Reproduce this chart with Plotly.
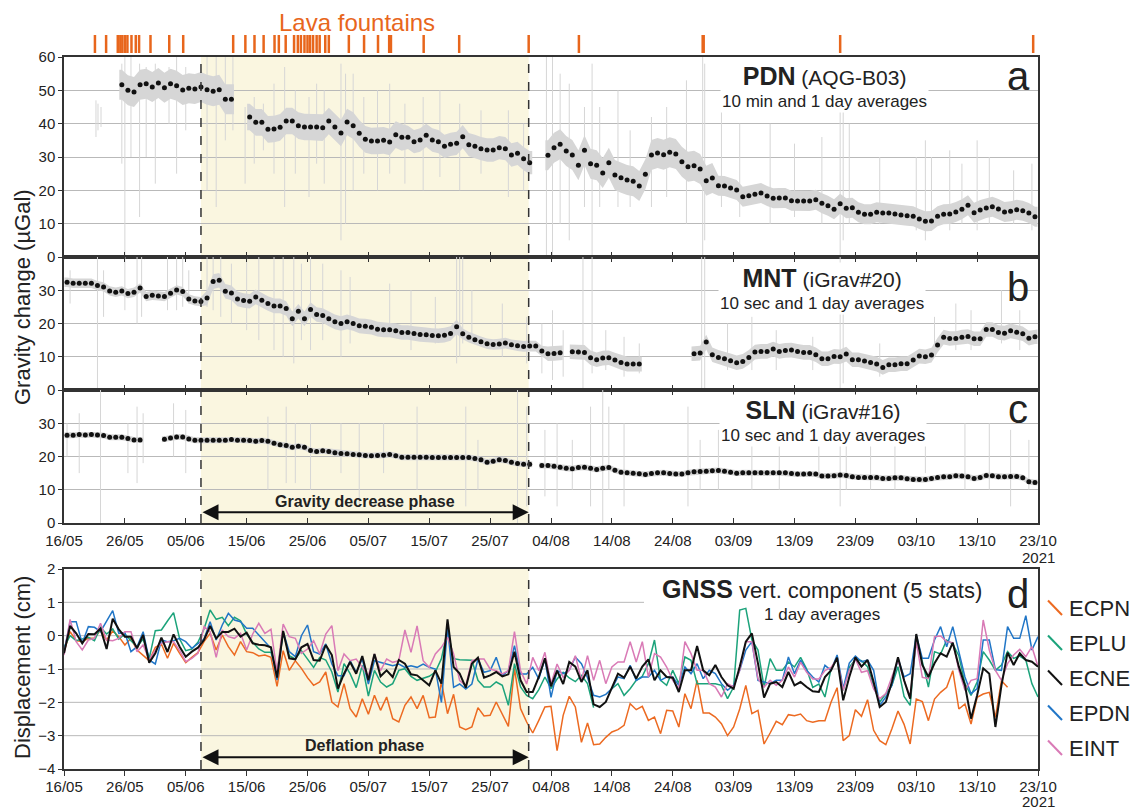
import pandas as pd
import plotly.graph_objects as go

# ------------------------------------------------------------------ data
X_RANGE = ["2021-05-16", "2021-10-23"]
TICK_DATES = ["2021-05-16", "2021-05-26", "2021-06-05", "2021-06-15", "2021-06-25",
              "2021-07-05", "2021-07-15", "2021-07-25", "2021-08-04", "2021-08-14",
              "2021-08-24", "2021-09-03", "2021-09-13", "2021-09-23", "2021-10-03",
              "2021-10-13", "2021-10-23"]
TICK_LABELS = ["16/05", "26/05", "05/06", "15/06", "25/06", "05/07", "15/07", "25/07",
               "04/08", "14/08", "24/08", "03/09", "13/09", "23/09", "03/10", "13/10",
               "23/10"]
YEAR_LABEL = "2021"

PHASE_START = "2021-06-07 12:00"
PHASE_END = "2021-07-31 08:00"

LAVA_FOUNTAINS = ["2021-05-21 02:00", "2021-05-22 22:00", "2021-05-24 20:00", "2021-05-25 06:00",
                  "2021-05-25 14:00", "2021-05-26 00:00", "2021-05-26 10:00", "2021-05-27 02:00",
                  "2021-05-27 19:00", "2021-05-28 08:00", "2021-05-30 05:00", "2021-06-02 07:00",
                  "2021-06-04 14:00", "2021-06-12 19:00", "2021-06-14 19:00", "2021-06-16 07:00",
                  "2021-06-17 19:00", "2021-06-19 14:00", "2021-06-20 07:00", "2021-06-21 10:00",
                  "2021-06-22 19:00", "2021-06-23 10:00", "2021-06-23 22:00", "2021-06-24 12:00",
                  "2021-06-25 00:00", "2021-06-25 10:00", "2021-06-25 22:00", "2021-06-26 12:00",
                  "2021-06-27 00:00", "2021-06-27 22:00", "2021-06-28 12:00", "2021-07-01 19:00",
                  "2021-07-04 07:00", "2021-07-06 14:00", "2021-07-08 10:00", "2021-07-08 17:00",
                  "2021-07-14 02:00", "2021-07-19 22:00", "2021-07-31 08:00", "2021-08-08 14:00",
                  "2021-08-28 22:00", "2021-08-29 02:00", "2021-09-20 12:00", "2021-10-22 05:00"]

# daily averages (plotted at noon), None = no data
PDN_START = "2021-05-25"
PDN_DAILY = [51.7, 50.0, 49.5, 51.7, 52.0, 51.0, 52.2, 50.8, 52.0, 51.4, 50.1, 50.6, 50.4, 51.0,
             50.2, 49.7, 50.2, 47.3, 47.3, None, None,
             42.0, 40.4, 40.4, 38.3, 38.4, 38.9, 40.8, 40.8, 39.4, 39.0, 39.0, 39.0, 38.8, 40.8,
             39.0, 37.2, 40.5, 39.4, 37.1, 35.3, 34.8, 34.8, 35.0, 34.5, 36.7, 35.9, 35.9, 34.6,
             35.1, 36.5, 35.1, 34.6, 33.2, 33.8, 34.1, 36.1, 33.7, 33.2, 32.5, 32.1, 32.1, 32.8,
             32.5, 30.6, 31.1, 29.5, 28.3, None, None,
             30.5, 32.8, 33.8, 31.8, 30.6, 27.5, 32.0, 28.0, 27.5, 25.2, 28.3, 24.6, 23.8, 23.1,
             22.7, 21.3, 24.8, 30.6, 31.2, 30.7, 31.4, 30.9, 28.6, 27.1, 27.4, 26.4, 22.9, 23.7,
             21.4, 21.3, 20.7, 20.1, 18.1, 18.4, 18.8, 19.2, 18.3, 17.6, 17.7, 17.7, 16.9, 16.8,
             16.8, 16.8, 17.2, 16.1, 15.4, 14.3, 16.0, 14.6, 14.8, 13.4, 12.8, 12.8, 13.4, 13.2,
             13.2, 12.9, 12.6, 12.4, 12.2, 11.4, 10.7, 10.8, 12.2, 12.8, 12.9, 13.5, 14.3, 15.5,
             13.3, 14.1, 14.7, 15.1, 14.4, 13.5, 13.7, 14.2, 13.9, 13.2, 12.1]

MNT_START = "2021-05-16"
MNT_DAILY = [32.4, 32.1, 32.1, 32.1, 32.1, 31.4, 31.0, 29.8, 29.4, 29.8, 29.0, 29.4, 30.7, 28.1,
             28.5, 28.3, 28.1, 29.1, 30.1, 29.6, 27.4, 26.8, 26.6, 27.7, 32.6, 33.0, 29.7, 29.2,
             27.4, 26.9, 26.7, 28.0, 27.0, 26.0, 25.3, 25.3, 24.5, 21.4, 23.7, 21.4, 24.2, 22.7,
             22.4, 21.4, 20.5, 20.0, 20.5, 20.0, 19.3, 19.2, 18.9, 18.3, 18.1, 18.1, 17.8, 17.3,
             17.3, 17.0, 16.7, 16.6, 16.4, 16.3, 16.5, 17.0, 19.0, 16.9, 15.9, 15.1, 14.5, 13.9,
             13.7, 13.8, 14.1, 13.6, 13.3, 13.1, 13.2, 13.2, 11.7, 10.9, 11.0, 11.2, None,
             11.5, 11.4, 11.3, 9.7, 9.1, 9.6, 9.7, 9.0, 8.3, 7.8, 7.8, 7.8,
             None, None, None, None, None, None, None, None,
             10.9, 11.1, 14.4, 10.6, 9.8, 9.4, 8.8, 8.2, 8.6, 9.8, 11.4, 11.6, 11.6, 12.3, 11.6,
             11.9, 12.0, 11.6, 11.3, 11.3, 10.6, 9.4, 9.4, 10.1, 10.0, 10.8, 9.1, 9.1, 8.7, 8.3,
             7.8, 6.8, 7.6, 7.6, 7.9, 7.9, 9.0, 10.2, 10.0, 10.5, 13.5, 15.9, 15.5, 15.5, 15.9,
             16.1, 15.4, 15.4, 18.2, 18.2, 17.3, 17.1, 17.8, 17.4, 16.9, 15.6, 16.0]

SLN_START = "2021-05-16"
SLN_DAILY = [26.4, 26.4, 26.6, 26.5, 26.6, 26.5, 26.3, 25.8, 25.8, 25.8, 25.4, 25.0, 25.0,
             None, None, None,
             25.2, 25.6, 25.9, 25.9, 25.3, 24.9, 24.9, 24.9, 24.9, 24.9, 24.9, 25.1, 24.9, 24.9,
             24.8, 24.6, 24.8, 24.6, 24.0, 23.5, 23.3, 22.8, 23.1, 22.8, 21.8, 21.5, 21.7, 21.5,
             21.1, 20.9, 20.8, 20.6, 20.5, 20.3, 20.2, 20.3, 20.4, 20.6, 20.2, 19.8, 19.8, 19.8,
             19.8, 19.8, 19.7, 19.7, 19.7, 19.7, 19.7, 19.7, 19.7, 19.4, 19.0, 18.3, 18.6, 19.0,
             18.8, 18.3, 17.9, 17.7, 17.7, None,
             17.3, 17.3, 17.1, 16.8, 16.5, 16.3, 16.7, 16.8, 16.5, 16.1, 16.5, 16.7, 15.9, 15.3,
             15.1, 15.0, 14.8, 14.6, 14.9, 15.1, 15.1, 14.9, 14.7, 14.7, 15.1, 15.4, 15.5, 15.6,
             15.7, 15.8, 15.6, 15.3, 15.0, 15.1, 15.1, 15.1, 15.1, 15.1, 15.1, 15.1, 15.1, 14.9,
             14.7, 14.7, 14.8, 14.7, 14.1, 14.1, 14.2, 14.4, 14.3, 13.9, 13.7, 13.7, 13.7, 13.7,
             13.4, 13.4, 13.6, 13.6, 13.3, 13.1, 13.1, 13.1, 13.4, 13.7, 13.9, 13.9, 14.2, 14.1,
             13.9, 13.4, 13.7, 14.3, 14.2, 13.9, 13.9, 14.0, 14.0, 13.6, 12.4, 12.2]

# spread of the 10 min / 10 s records around the daily means (valid from date onward)
PDN_SPREAD_FROM = ["2021-05-25", "2021-06-15", "2021-07-11", "2021-08-03", "2021-08-31"]
PDN_SPREAD = [4.5, 4.0, 3.5, 4.5, 3.0]
MNT_SPREAD_FROM = ["2021-05-16", "2021-06-08", "2021-07-20", "2021-08-03"]
MNT_SPREAD = [1.4, 2.2, 1.6, 2.2]
SLN_SPREAD_FROM = ["2021-05-16"]
SLN_SPREAD = [0.9]

# large transients in the high-rate records: time, min, max
PDN_SPIKE_T = ["2021-05-21 06:00", "2021-05-21 14:00", "2021-05-22 02:00", "2021-05-25 12:00",
               "2021-05-26 00:00", "2021-05-27 00:00", "2021-05-28 10:00", "2021-05-29 12:00",
               "2021-05-31 00:00", "2021-06-02 06:00", "2021-06-03 12:00", "2021-06-05 00:00",
               "2021-06-08 12:00", "2021-06-10 00:00", "2021-06-11 12:00", "2021-06-12 18:00",
               "2021-06-14 18:00", "2021-06-16 06:00", "2021-06-17 18:00", "2021-06-19 12:00",
               "2021-06-21 06:00", "2021-06-23 00:00", "2021-06-25 06:00", "2021-06-26 12:00",
               "2021-06-27 18:00", "2021-06-30 12:00", "2021-07-01 06:00", "2021-07-02 12:00",
               "2021-07-04 06:00", "2021-07-06 12:00", "2021-07-08 12:00", "2021-07-11 00:00",
               "2021-07-14 00:00", "2021-07-16 18:00", "2021-07-20 00:00", "2021-07-23 12:00",
               "2021-07-28 00:00", "2021-07-30 12:00", "2021-08-03 06:00", "2021-08-04 06:00",
               "2021-08-05 12:00", "2021-08-07 00:00", "2021-08-09 12:00", "2021-08-10 18:00",
               "2021-08-12 00:00", "2021-08-15 00:00", "2021-08-17 00:00", "2021-08-20 12:00",
               "2021-08-23 00:00", "2021-08-26 06:00", "2021-08-28 22:00", "2021-08-29 06:00",
               "2021-09-01 00:00", "2021-09-04 00:00", "2021-09-09 00:00", "2021-09-13 00:00",
               "2021-09-17 12:00", "2021-09-20 12:00", "2021-09-21 00:00", "2021-09-22 00:00",
               "2021-09-27 00:00", "2021-10-03 00:00", "2021-10-04 12:00", "2021-10-05 12:00",
               "2021-10-08 12:00", "2021-10-10 12:00", "2021-10-13 00:00", "2021-10-15 00:00",
               "2021-10-19 00:00", "2021-10-22 00:00"]
PDN_SPIKE_LO = [36, 38, 39, 28, 0, 30, 12, 30, 22, 40, 25, 38, 20, 15, 35, 38, 22, 28, 32, 25,
                15, 25, 18, 28, 22, 5, 10, 20, 25, 20, 25, 22, 20, 24, 20, 25, 18, 20, 0, 0,
                10, 5, 15, 0, 15, 15, 15, 15, 18, 10, 0, 5, 15, 12, 10, 12, 10, 0, 5, 10,
                10, 8, 5, 8, 8, 10, 8, 10, 10, 8]
PDN_SPIKE_HI = [47, 46, 45, 58, 60, 60, 58, 57, 58, 57, 60, 57, 60, 60, 60, 60, 45, 48, 46, 52,
                57, 50, 48, 52, 50, 58, 55, 55, 48, 50, 52, 46, 48, 50, 46, 44, 44, 40, 60, 60,
                55, 52, 45, 58, 45, 50, 38, 42, 45, 53, 60, 58, 45, 40, 40, 34, 36, 58, 50, 40,
                30, 30, 35, 30, 32, 28, 35, 30, 26, 28]

MNT_SPIKE_T = ["2021-05-17 00:00", "2021-05-21 12:00", "2021-05-22 12:00", "2021-05-26 00:00",
               "2021-05-28 00:00", "2021-05-28 18:00", "2021-06-02 00:00", "2021-06-03 12:00",
               "2021-06-04 12:00", "2021-06-05 12:00", "2021-06-08 12:00", "2021-06-09 12:00",
               "2021-06-10 18:00", "2021-06-12 12:00", "2021-06-15 00:00", "2021-06-17 00:00",
               "2021-06-19 12:00", "2021-06-21 00:00", "2021-06-22 18:00", "2021-06-24 00:00",
               "2021-06-25 12:00", "2021-06-27 12:00", "2021-06-30 12:00", "2021-07-02 00:00",
               "2021-07-08 12:00", "2021-07-12 00:00", "2021-07-16 00:00", "2021-07-19 12:00",
               "2021-07-20 00:00", "2021-07-20 12:00", "2021-07-22 00:00", "2021-07-27 00:00",
               "2021-07-31 00:00", "2021-08-02 12:00", "2021-08-04 06:00", "2021-08-06 00:00",
               "2021-08-09 06:00", "2021-08-10 18:00", "2021-08-13 00:00", "2021-08-16 00:00",
               "2021-08-18 12:00", "2021-08-28 18:00", "2021-08-29 06:00", "2021-09-02 00:00",
               "2021-09-06 00:00", "2021-09-10 00:00", "2021-09-16 00:00", "2021-09-20 12:00",
               "2021-09-21 00:00", "2021-09-27 00:00", "2021-10-06 00:00", "2021-10-09 12:00",
               "2021-10-12 00:00", "2021-10-17 00:00", "2021-10-20 00:00"]
MNT_SPIKE_LO = [26, 0, 22, 24, 20, 22, 24, 24, 25, 26, 25, 24, 22, 20, 18, 15, 12, 10, 8, 15,
                12, 15, 10, 14, 18, 12, 14, 8, 10, 14, 15, 10, 8, 5, 3, 4, 0, 5, 6, 4,
                5, 0, 0, 6, 6, 6, 6, 0, 2, 4, 10, 12, 12, 14, 12]
MNT_SPIKE_HI = [36, 40, 36, 40, 40, 40, 40, 40, 40, 36, 40, 40, 40, 38, 40, 40, 40, 40, 40, 38,
                40, 38, 36, 34, 32, 30, 28, 40, 40, 40, 30, 26, 22, 20, 24, 18, 40, 40, 18, 16,
                14, 40, 40, 20, 22, 18, 16, 40, 38, 14, 22, 26, 24, 30, 24]

SLN_SPIKE_T = ["2021-05-16 12:00", "2021-05-18 12:00", "2021-05-22 00:00", "2021-05-26 12:00",
               "2021-05-28 00:00", "2021-05-29 00:00", "2021-06-03 00:00", "2021-06-05 00:00",
               "2021-06-18 12:00", "2021-06-21 12:00", "2021-06-23 00:00", "2021-06-25 12:00",
               "2021-06-30 12:00", "2021-07-03 12:00", "2021-07-07 12:00", "2021-07-13 00:00",
               "2021-07-21 00:00", "2021-07-23 00:00", "2021-07-29 12:00", "2021-07-31 00:00",
               "2021-08-03 00:00", "2021-08-05 00:00", "2021-08-07 12:00", "2021-08-10 12:00",
               "2021-08-12 12:00", "2021-08-13 12:00", "2021-08-16 00:00", "2021-08-26 12:00",
               "2021-08-28 12:00", "2021-08-31 12:00", "2021-09-06 00:00", "2021-09-10 12:00",
               "2021-09-17 00:00", "2021-09-20 12:00", "2021-09-21 12:00", "2021-09-25 12:00",
               "2021-09-29 12:00", "2021-10-04 12:00", "2021-10-11 00:00", "2021-10-15 00:00",
               "2021-10-18 12:00", "2021-10-21 12:00"]
SLN_SPIKE_LO = [20, 15, 0, 15, 12, 18, 20, 15, 10, 12, 12, 10, 15, 5, 15, 10, 5, 10, 0, 5,
                8, 5, 10, 5, 0, 10, 5, 5, 10, 10, 10, 10, 15, 5, 10, 10, 10, 15, 10, 10, 5, 10]
SLN_SPIKE_HI = [30, 33, 40, 30, 35, 33, 36, 34, 32, 35, 30, 30, 30, 30, 30, 35, 35, 25, 40, 35,
                28, 30, 25, 35, 40, 35, 30, 35, 25, 28, 25, 30, 35, 38, 30, 25, 32, 28, 30, 30,
                28, 25]

# GNSS vertical component, daily values from 16/05 (cm)
GNSS_START = "2021-05-16"
ECPN = [-0.48, 0.12, -0.15, -0.18, -0.08, -0.08, 0.17, -0.13, 0.14, -0.03, -0.28, -0.08, -0.43,
        -0.58, -0.75, -0.35, -0.25, -0.68, -0.23, -0.53, -0.81, -0.65, -0.51, -0.18, 0.07, -0.43,
        0.02, -0.33, -0.58, -0.18, -0.48, -0.51, -0.61, -0.58, -0.65, -1.52, -0.45, -1.04, -0.75,
        -0.98, -1.26,
        -1.49, -1.39, -1.09, -1.99, -2.14, -1.44, -2.19, -2.44, -1.89, -2.36, -1.79, -2.24, -1.84,
        -2.49, -2.59, -2.09, -1.84, -2.19, -1.79, -2.46, -2.44, -1.39, -2.34, -1.76, -2.74, -2.82,
        -2.74, -2.16, -2.41, -2.39, -1.99, -2.34, -2.72, -0.98, -2.19, -2.59, -2.92, -2.54, -2.14,
        -2.12,
        -3.45, -2.39, -1.82, -2.14, -3.2, -2.62, -3.27, -3.25, -3.05, -2.89, -2.82, -2.69, -2.04,
        -2.22, -2.12, -2.54, -2.44, -2.94, -2.24, -2.26, -2.74, -1.74, -2.19, -1.34, -2.32, -2.32,
        -2.44, -2.64, -3.0, -2.74, -2.2, -1.49, -2.34, -2.24, -3.25, -2.92, -2.57, -2.67, -2.37,
        -2.4,
        -2.35, -2.55, -2.6, -2.55, -2.55, -2.0, -1.56, -3.15, -3.0, -2.22, -2.42, -1.92, -2.84,
        -3.15, -3.27, -2.79, -2.26, -2.66, -3.25, -1.9, -1.98, -2.55, -1.9, -1.7, -1.55, -1.05,
        -2.2, -2.05, -2.65, -1.85, -1.75, -1.7, -2.45, -1.35, -1.55]
EPLU = [-0.35, 0.0, -0.15, -0.1, -0.05, -0.15, 0.25, 0.05, 0.2, -0.1, 0.05, -0.15, -0.33, -0.1,
        -0.68, 0.15, 0.17, 0.44, 0.69, -0.1, -0.45, -0.4, -0.2, 0.2, 0.77, 0.49, 0.55, 0.3, 0.55,
        0.45, 0.05, -0.2, -0.4, -0.5, -0.5, -1.1, 0.1, -0.6, -0.7, -0.45, -0.71,
        -0.95, -0.65, -0.73, -1.09, -1.69, -0.84, -1.14, -1.56, -0.89, -1.81, -1.04, -1.39, -1.54,
        -1.44, -1.04, -0.99, -1.22, -1.34, -1.29, -1.22, -1.09, -0.69, 0.17, -0.69, -0.72, -0.72,
        -0.74, -1.34, -1.54, -1.54, -1.39, -1.49, -2.09, -0.84, -1.54, -1.79, -1.89, -1.62, -1.24,
        -1.59,
        -1.3, -1.1, -1.27, -1.38, -1.19, -1.44, -2.16, None, None, -1.59, -1.44, -1.79, -1.59,
        -1.34, -1.22, -0.84, -0.13, -1.34, -1.49, -1.04, -1.44, -0.64, -0.74, -1.44, -1.44, -1.44,
        -1.44, -1.49, -1.89, -1.54, 0.77, 0.82, -0.13, -0.43, -1.54, -0.69, -1.04, -1.04, -0.79,
        -0.94,
        -0.65, -1.0, -1.55, -1.45, -1.84, -1.0, -0.7, -1.64, -0.95, -0.71, -0.75, -0.93, -1.5,
        -1.99, -1.74, -1.49, -0.93, -1.82, -2.09, -0.03, -0.78, -1.54, -0.48, -0.55, -0.13, -0.25,
        -0.6, -1.44, -1.79, -1.39, -0.48, -0.73, -1.04, -0.88, -0.48, -0.68, -0.61, -0.73, -1.44,
        -1.84]
ECNE = [-0.53, 0.29, 0.07, -0.23, 0.05, 0.04, 0.21, -0.40, 0.51, 0.19, -0.03, -0.03, -0.38,
        0.02, -0.81, -0.53, -0.06, -0.49, 0.04, -0.33, -0.63, -0.48, -0.36, -0.13, 0.29, -0.08,
        0.11, 0.11, 0.21, -0.03, 0.09, -0.23, -0.27, -0.29, -0.35, -1.26, 0.14, -0.68, -0.71,
        -0.35, -0.25,
        -0.73, -0.75, -0.28, -0.58, -1.59, -1.14, -0.79, -1.14, -0.61, -1.34, -0.55, -1.22, -1.04,
        -1.24, -0.73, -0.84, -1.16, -1.19, -1.34, -1.49, -1.04, -1.44, 0.49, -0.94, -1.14, -1.56,
        -0.84, -0.66, -1.26, -1.19, -1.09, -1.22, -1.16, -0.48, -1.34, -1.69, -1.69, -1.24, -0.68,
        -1.52,
        -1.05, -1.45, -0.79, -0.93, -1.39, -1.04, -2.06, -2.14, -1.99, -1.54, -1.14, -1.26, -0.93,
        -1.29, -0.93, -0.71, -1.34, -1.04, -1.24, -1.26, -1.69, -1.04, -1.04, -0.31, -1.04, -1.19,
        -0.88, -1.24, -1.49, -1.59, -0.93, -0.18, 0.07, -0.83, -1.86, -1.44, -1.39, -1.54, -1.09,
        -1.49,
        -1.39, -1.54, -1.67, -1.69, -1.24, -1.04, -0.66, -1.94, -1.24, -0.65, -0.93, -0.73, -1.39,
        -2.14, -1.99, -1.39, -0.65, -1.34, -1.89, 0.05, -0.88, -1.24, -0.83, -0.53, -0.63, -0.21,
        -0.93, -1.49, -2.49, -1.79, -0.98, -1.14, -2.74, -1.49, -0.51, -0.88, -0.53, -0.73, -0.78,
        -0.93]
EPDN = [-0.48, 0.42, 0.42, -0.23, 0.27, 0.25, 0.12, 0.42, 0.75, 0.07, 0.09, -0.48, -0.33, 0.12,
        -0.73, -0.85, -0.13, -0.18, -0.15, -0.08, -0.18, -0.38, -0.25, -0.1, 0.42, -0.13, 0.32,
        0.67, 0.47, 0.42, 0.22, 0.22, 0.02, -0.18, -0.38, -1.33, 0.12, -0.48, -0.63, 0.0, 0.32,
        -0.48, -0.55, -0.25, -0.85, -1.2, -1.2, -0.75, -1.1, -0.7, -1.45, -0.75, -0.8, -0.85, -0.9,
        -0.85, -0.95, -0.9, -0.95, -0.85, -0.95, -1.0, -2.0, 0.25, -1.55, -1.45, -1.6, -1.45, -0.7,
        -1.1, -1.05, -0.65, -1.2, -1.05, -0.3, -1.15, -1.15, -0.95, -1.3, -0.7, -1.85,
        -1.05, -1.14, -1.04, -0.64, -0.84, -1.26, -1.79, -1.84, -1.76, -1.59, -1.24, -1.29, -0.89,
        -1.34, -1.24, -1.24, -1.04, -1.34, -1.24, -1.24, -1.49, -0.94, -1.14, -0.84, -1.29, -1.04,
        -1.14, -1.44, -1.64, -1.49, -1.04, -0.43, -0.18, -1.34, -1.39, -1.44, -1.34, -1.34, -0.64,
        -1.14,
        -0.73, -1.04, -1.24, -1.39, -0.89, -1.04, -0.58, -1.59, -0.82, -0.61, -0.78, -0.73, -1.04,
        -2.09, -1.84, -1.49, -0.68, -1.24, -1.14, 0.02, -0.68, -0.68, -0.13, 0.27, -0.33, 0.27,
        -0.48, -1.24, -1.74, -1.59, -0.13, -0.13, -1.02, -1.04, 0.27, -0.08, -0.08, 0.6, -0.43,
        -0.03]
EINT = [-0.58, 0.49, -0.18, -0.43, -0.13, -0.08, 0.37, -0.13, -0.15, -0.08, 0.12, 0.12, -0.48,
        -0.28, -0.73, -0.43, -0.23, -0.18, -0.18, -0.45, -0.78, -0.68, -0.53, 0.27, 0.12, -0.65,
        0.17, -0.03, -0.08, 0.07, -0.43, 0.05, 0.37, 0.07, 0.19, -1.09, 0.35, -0.03, -0.08, -0.53,
        -0.4,
        -0.15, -0.55, 0.05, 0.3, -1.05, -0.55, -0.75, -0.7, -0.95, -1.2, -0.55, -1.05, -0.7, -0.8,
        -0.75, 0.17, -0.5, 0.29, -0.75, -0.95, -0.55, -0.35, -0.05, -0.55, -1.35, -1.5, -0.75,
        -0.7, -0.7, -1.0, -1.05, -1.15, -1.05, 0.12, -1.05, -1.45, -0.65, -1.05, -0.5, -1.45,
        -0.85, -1.25, -1.04, -0.6, -1.34, -0.6, -1.34, -0.74, -1.44, -0.94, -0.79, -0.79, -0.18,
        -0.79, -0.18, -1.24, -0.54, -0.64, -0.94, -1.34, -1.59, -0.18, -0.54, -1.04, -1.04, -1.44,
        -1.54, -1.84, -1.44, -1.54, -1.04, -0.18, -0.18, -1.29, -1.54, -1.34, -1.49, -1.34, -0.94,
        -1.24,
        -0.8, -1.1, -1.3, -1.3, -1.05, -0.95, -0.7, -1.64, -1.04, -0.7, -1.1, -1.05, -1.6, -1.89,
        -1.74, -1.24, -0.73, -1.34, -1.84, -0.18, -1.25, -1.29, -0.03, -0.01, -0.18, -0.21, -1.04,
        -1.64, -1.34, -1.29, 0.47, -0.43, -1.04, -1.34, -0.84, -0.58, -0.41, -0.63, -0.33, -0.93]

GNSS_NAMES = ["ECPN", "EPLU", "ECNE", "EPDN", "EINT"]

# ------------------------------------------------------------------ style
W, H = 1135, 810
FONT = "Liberation Sans, Arial, sans-serif"
TXT = "#222222"
AXC = "#333333"
GRID = "#b9b9b9"
GREY = "#d6d6d6"
SHADE = "#faf6e0"
ORANGE = "#e8661c"
COLORS = {"ECPN": "#ec6a21", "EPLU": "#1ca37b", "ECNE": "#111111",
          "EPDN": "#2176c7", "EINT": "#d97ab6"}


def px(xp):
    return xp / W


def py(yp):
    return 1 - yp / H


X0, X1 = px(64), px(1038)


def daily_dates(start, n, hour):
    return pd.date_range(pd.Timestamp(start) + pd.Timedelta(hours=hour), periods=n, freq="D")


def spread_at(d, froms, vals):
    w = vals[0]
    for f, v in zip(froms, vals):
        if d >= pd.Timestamp(f):
            w = v
    return w


def band(start, vals, froms, widths):
    dates = daily_dates(start, len(vals), 12)
    xs, ys = [], []
    runs, cur = [], []
    for d, v in zip(dates, vals):
        if v is None:
            if cur:
                runs.append(cur)
            cur = []
        else:
            cur.append((d, v, spread_at(d, froms, widths)))
    if cur:
        runs.append(cur)
    half = pd.Timedelta(hours=10)
    for r in runs:
        top = [(r[0][0] - half, r[0][1] + r[0][2])] + [(d, v + w) for d, v, w in r] + \
              [(r[-1][0] + half, r[-1][1] + r[-1][2])]
        bot = [(r[-1][0] + half, r[-1][1] - r[-1][2])] + [(d, v - w) for d, v, w in reversed(r)] + \
              [(r[0][0] - half, r[0][1] - r[0][2])]
        pts = top + bot + [top[0]]
        xs += [p[0] for p in pts] + [None]
        ys += [p[1] for p in pts] + [None]
    return xs, ys


def segments(times, lo, hi):
    xs, ys = [], []
    for t, a, b in zip(times, lo, hi):
        xs += [t, t, None]
        ys += [a, b, None]
    return xs, ys


fig = go.Figure()

panels = [
    ("x", "y", PDN_START, PDN_DAILY, PDN_SPREAD_FROM, PDN_SPREAD, PDN_SPIKE_T, PDN_SPIKE_LO, PDN_SPIKE_HI),
    ("x2", "y2", MNT_START, MNT_DAILY, MNT_SPREAD_FROM, MNT_SPREAD, MNT_SPIKE_T, MNT_SPIKE_LO, MNT_SPIKE_HI),
    ("x3", "y3", SLN_START, SLN_DAILY, SLN_SPREAD_FROM, SLN_SPREAD, SLN_SPIKE_T, SLN_SPIKE_LO, SLN_SPIKE_HI),
]
for xa, ya, start, vals, sfrom, sw, st, slo, shi in panels:
    bx, by = band(start, vals, sfrom, sw)
    fig.add_trace(go.Scatter(x=bx, y=by, xaxis=xa, yaxis=ya, mode="lines", fill="toself",
                             fillcolor=GREY, line=dict(width=0, color=GREY),
                             hoverinfo="skip", showlegend=False))
    sx, sy = segments(st, slo, shi)
    fig.add_trace(go.Scatter(x=sx, y=sy, xaxis=xa, yaxis=ya, mode="lines",
                             line=dict(width=1, color=GREY), hoverinfo="skip", showlegend=False))
    fig.add_trace(go.Scatter(x=daily_dates(start, len(vals), 12), y=vals, xaxis=xa, yaxis=ya,
                             mode="markers", marker=dict(size=5, color="#111111"),
                             showlegend=False))

# GNSS
gnss = {"ECPN": ECPN, "EPLU": EPLU, "ECNE": ECNE, "EPDN": EPDN, "EINT": EINT}
for name in ["ECPN", "EPLU", "EPDN", "EINT", "ECNE"]:
    vals = gnss[name]
    fig.add_trace(go.Scatter(x=daily_dates(GNSS_START, len(vals), 0), y=vals, xaxis="x4", yaxis="y4",
                             mode="lines", connectgaps=False,
                             line=dict(color=COLORS[name], width=2.0 if name == "ECNE" else 1.5),
                             name=name, showlegend=False))

# lava fountain ticks
lx, ly = segments(LAVA_FOUNTAINS, [0] * len(LAVA_FOUNTAINS), [1] * len(LAVA_FOUNTAINS))
fig.add_trace(go.Scatter(x=lx, y=ly, xaxis="x5", yaxis="y5", mode="lines",
                         line=dict(color=ORANGE, width=2.5), hoverinfo="skip", showlegend=False))

# ------------------------------------------------------------------ axes
common_x = dict(type="date", range=X_RANGE, domain=[X0, X1], tickvals=TICK_DATES,
                ticktext=TICK_LABELS, showgrid=False, zeroline=False, showline=True,
                linecolor=AXC, linewidth=1.5, tickcolor=AXC, ticklen=5, tickwidth=1,
                automargin=False, tickfont=dict(family=FONT, size=15, color=TXT))
common_y = dict(showgrid=True, gridcolor=GRID, gridwidth=1, zeroline=False, showline=True,
                linecolor=AXC, linewidth=1.5, mirror=True, ticks="outside", ticklen=4,
                tickcolor=AXC, automargin=False, tickfont=dict(family=FONT, size=15, color=TXT))

layout = dict(
    template="none",
    width=W, height=H, autosize=False, margin=dict(l=0, r=0, t=0, b=0, pad=0),
    paper_bgcolor="white", plot_bgcolor="rgba(0,0,0,0)", showlegend=False,
    font=dict(family=FONT, color=TXT),
    xaxis=dict(common_x, anchor="y", ticks="inside", mirror=True, showticklabels=False),
    xaxis2=dict(common_x, anchor="y2", matches="x", ticks="inside", mirror="ticks", showticklabels=False),
    xaxis3=dict(common_x, anchor="y3", matches="x", ticks="inside", mirror="ticks", showticklabels=True,
                ticklabelstandoff=3),
    xaxis4=dict(common_x, anchor="y4", matches="x", ticks="outside", mirror=True, showticklabels=True,
                ticklabelstandoff=-2),
    xaxis5=dict(type="date", range=X_RANGE, domain=[X0, X1], anchor="y5", matches="x",
                visible=False, automargin=False),
    yaxis=dict(common_y, anchor="x", domain=[py(257), py(57)], range=[0, 60],
               tickvals=[0, 10, 20, 30, 40, 50, 60]),
    yaxis2=dict(common_y, anchor="x2", domain=[py(390), py(257)], range=[0, 40],
                tickvals=[0, 10, 20, 30]),
    yaxis3=dict(common_y, anchor="x3", domain=[py(523), py(390)], range=[0, 40],
                tickvals=[0, 10, 20, 30]),
    yaxis4=dict(common_y, anchor="x4", domain=[py(769), py(569)], range=[-4, 2],
                tickvals=[-4, -3, -2, -1, 0, 1, 2], showgrid=False),
    yaxis5=dict(anchor="x5", domain=[py(53), py(35)], range=[0, 1], visible=False, automargin=False),
)
fig.update_layout(**layout)

# ------------------------------------------------------------------ shapes
shapes = []
# shaded phase
shapes.append(dict(type="rect", xref="x", yref="paper", x0=PHASE_START, x1=PHASE_END,
                   y0=py(523), y1=py(57), fillcolor=SHADE, line=dict(width=0), layer="below"))
shapes.append(dict(type="rect", xref="x", yref="paper", x0=PHASE_START, x1=PHASE_END,
                   y0=py(769), y1=py(569), fillcolor=SHADE, line=dict(width=0), layer="below"))
# GNSS grid lines (the one at +1 is interrupted by the panel title)
for v in [-3, -2, -1, 0]:
    shapes.append(dict(type="line", xref="paper", yref="y4", x0=X0, x1=X1, y0=v, y1=v,
                       line=dict(color=GRID, width=1), layer="below"))
shapes.append(dict(type="line", xref="paper", yref="y4", x0=X0, x1=px(644), y0=1, y1=1,
                   line=dict(color=GRID, width=1), layer="below"))
# phase limits
for t in [PHASE_START, PHASE_END]:
    shapes.append(dict(type="line", xref="x", yref="paper", x0=t, x1=t, y0=py(523), y1=py(57),
                       line=dict(color=AXC, width=1.5, dash="dash")))
    shapes.append(dict(type="line", xref="x", yref="paper", x0=t, x1=t, y0=py(769), y1=py(569),
                       line=dict(color=AXC, width=1.5, dash="dash")))
# legend glyphs
for i, name in enumerate(GNSS_NAMES):
    cy = 608 + 35 * i
    shapes.append(dict(type="line", xref="paper", yref="paper", x0=px(1048), x1=px(1062),
                       y0=py(cy - 7.5), y1=py(cy + 7), line=dict(color=COLORS[name], width=2)))
fig.update_layout(shapes=shapes)

# ------------------------------------------------------------------ annotations
mid = pd.Timestamp(PHASE_START) + (pd.Timestamp(PHASE_END) - pd.Timestamp(PHASE_START)) / 2
ann = []


def text(x, y, s, size, **kw):
    d = dict(x=x, y=y, xref="paper", yref="paper", text=s, showarrow=False,
             font=dict(family=FONT, size=size, color=kw.pop("color", TXT)),
             xanchor=kw.pop("xanchor", "center"), yanchor=kw.pop("yanchor", "middle"))
    d.update(kw)
    ann.append(d)


text(px(357), py(23), "Lava fountains", 24, color=ORANGE)
text(px(824), py(87), "<span style='font-size:25px'><b>PDN</b></span>"
     "<span style='font-size:21px'> (AQG-B03)</span><br>10 min and 1 day averages", 17,
     bgcolor="white", borderpad=1)
text(px(822), py(288), "<span style='font-size:25px'><b>MNT</b></span>"
     "<span style='font-size:21px'> (iGrav#20)</span><br>10 sec and 1 day averages", 17,
     bgcolor="white", borderpad=1)
text(px(823), py(420), "<span style='font-size:25px'><b>SLN</b></span>"
     "<span style='font-size:21px'> (iGrav#16)</span><br>10 sec and 1 day averages", 17,
     bgcolor="white", borderpad=1)
text(px(822), py(599), "<span style='font-size:25px'><b>GNSS</b></span>"
     "<span style='font-size:22px'> vert. component (5 stats)</span><br>1 day averages", 17)
for letter, yc in [("a", 76), ("b", 287), ("c", 409), ("d", 594)]:
    text(px(1018), py(yc), letter, 40)
text(px(22), py(297), "Gravity change (µGal)", 22, textangle=-90)
text(px(22), py(668), "Displacement (cm)", 22, textangle=-90)
for i, name in enumerate(GNSS_NAMES):
    text(px(1067), py(608 + 35 * i), name, 22, xanchor="left")
# year under the last date label of panels c and d
text(px(1038), py(557), YEAR_LABEL, 15)
text(px(1038), py(801), YEAR_LABEL, 15)

# phase arrows and labels
ann.append(dict(x=mid, y=6.5, xref="x3", yref="y3", text="<b>Gravity decrease phase</b>",
                showarrow=False, font=dict(family=FONT, size=16, color=TXT)))
ann.append(dict(x=PHASE_END, y=3.2, ax=PHASE_START, ay=3.2, xref="x3", yref="y3",
                axref="x3", ayref="y3", text="", showarrow=True, arrowhead=2,
                arrowside="end+start", arrowsize=1.6, arrowwidth=2, arrowcolor="#111111"))
ann.append(dict(x=mid, y=-3.3, xref="x4", yref="y4", text="<b>Deflation phase</b>",
                showarrow=False, font=dict(family=FONT, size=16, color=TXT)))
ann.append(dict(x=PHASE_END, y=-3.65, ax=PHASE_START, ay=-3.65, xref="x4", yref="y4",
                axref="x4", ayref="y4", text="", showarrow=True, arrowhead=2,
                arrowside="end+start", arrowsize=1.6, arrowwidth=2, arrowcolor="#111111"))
fig.update_layout(annotations=ann)

fig.write_html("out.html")
